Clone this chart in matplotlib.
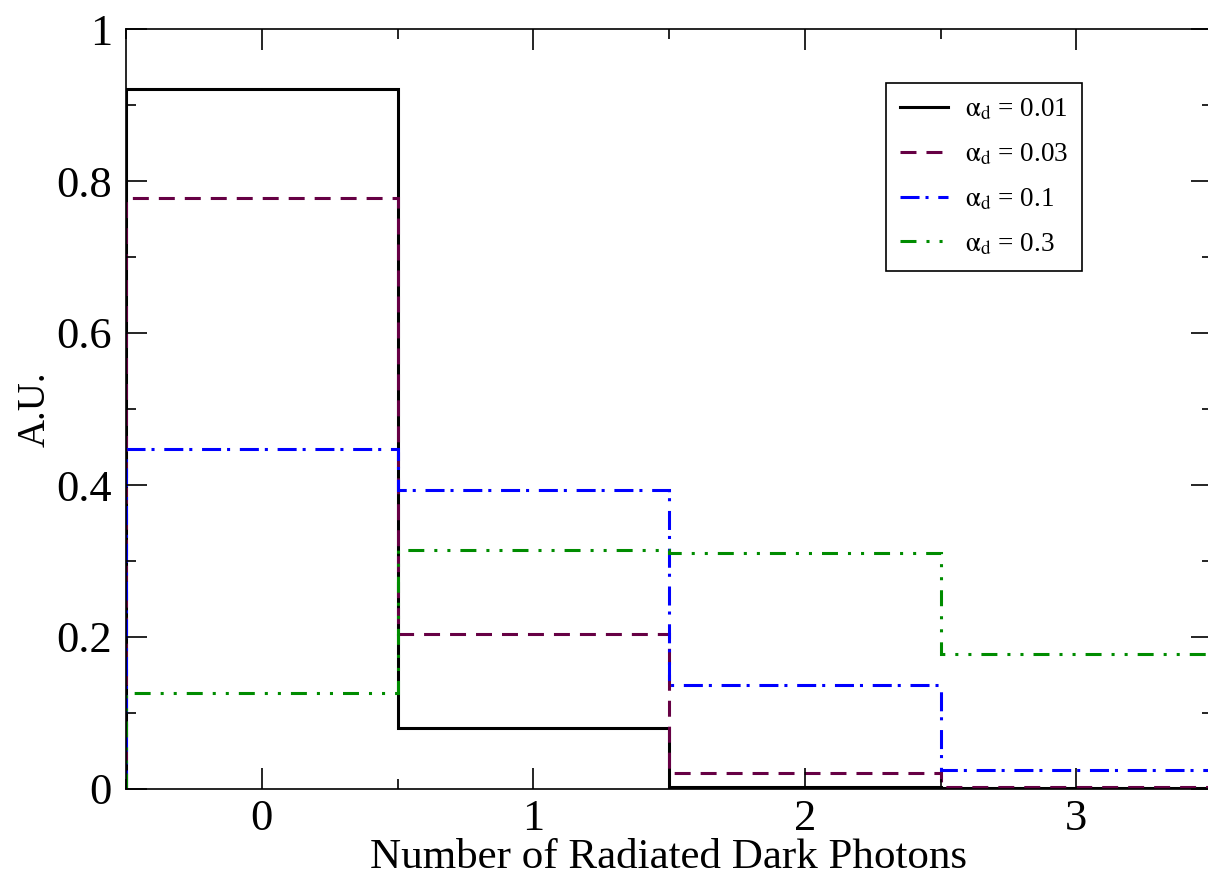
import numpy as np
import matplotlib
matplotlib.use("Agg")
import matplotlib.pyplot as plt
from matplotlib.ticker import MultipleLocator

# bin edges and values (one bin per photon count)
edges = [-0.5, 0.5, 1.5, 2.5, 3.5]
alpha_labels = ["0.01", "0.03", "0.1", "0.3"]
vals_001 = [0.921, 0.080, 0.003, 0.001]
vals_003 = [0.778, 0.204, 0.021, 0.002]
vals_01 = [0.447, 0.394, 0.137, 0.025]
vals_03 = [0.126, 0.314, 0.310, 0.178]

plt.rcParams['font.family'] = ['Liberation Serif', 'DejaVu Serif']
plt.rcParams['mathtext.fontset'] = 'stix'
plt.rcParams['lines.scale_dashes'] = False

fig = plt.figure(figsize=(12.08, 8.76), dpi=100)
# right spine sits just outside the picture in the reference
ax = fig.add_axes([126/1208, 87/876, 1086/1208, 760/876])

lw = 2.2
styles = [
    ('black', '-'),
    ('#660044', (0, (11.5, 7.2))),
    ('#0000ff', (0, (13.7, 4.3, 2.2, 7.0))),
    ('#008c00', (0, (11.5, 7.2, 2.2, 7.2, 2.2, 7.2))),
]
series = [vals_001, vals_003, vals_01, vals_03]

for v, lab, (c, ls) in zip(series, alpha_labels, styles):
    ax.stairs(v, edges, color=c, linestyle=ls, linewidth=lw,
              label=r'$\mathrm{\alpha_d}$' + ' = ' + lab)

ax.set_xlim(-0.5, 3.5)
ax.set_ylim(0, 1)
ax.xaxis.set_major_locator(MultipleLocator(1))
ax.xaxis.set_minor_locator(MultipleLocator(0.5))
ax.yaxis.set_minor_locator(MultipleLocator(0.1))
ax.set_yticks([0, 0.2, 0.4, 0.6, 0.8, 1.0])
ax.set_yticklabels(['0', '0.2', '0.4', '0.6', '0.8', '1'])

ax.tick_params(which='both', direction='in', top=True, right=True,
               labelsize=32, width=1.2)
ax.tick_params(which='major', length=15, pad=10)
ax.tick_params(axis='x', which='major', pad=7)
ax.tick_params(which='minor', length=7)
for s in ax.spines.values():
    s.set_linewidth(1.2)

ax.set_xlabel('Number of Radiated Dark Photons', fontsize=31, labelpad=0)
ax.set_ylabel('A.U.', fontsize=28, labelpad=2)

leg = ax.legend(loc='upper left', bbox_to_anchor=(0.70, 0.929),
                borderaxespad=0, fontsize=19.5, fancybox=False,
                edgecolor='black', framealpha=1, handlelength=1.8,
                handletextpad=0.6, labelspacing=0.7, borderpad=0.5)
leg.get_frame().set_linewidth(1.2)

fig.savefig('out.png', dpi=100)
